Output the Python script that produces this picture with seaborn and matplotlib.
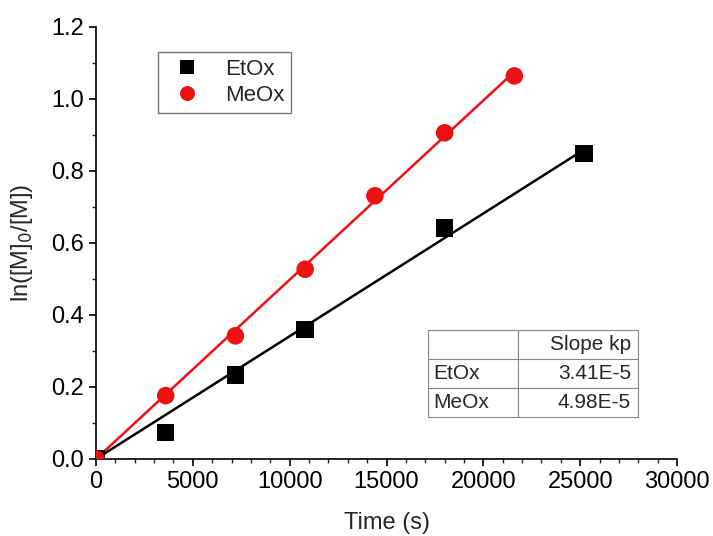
import numpy as np
import pandas as pd
import seaborn as sns
import matplotlib.pyplot as plt
from matplotlib.ticker import MultipleLocator

# data
etox_t = [0, 3600, 7200, 10800, 18000, 25200]
etox_y = [0.0, 0.073, 0.233, 0.360, 0.642, 0.849]
meox_t = [0, 3600, 7200, 10800, 14400, 18000, 21600]
meox_y = [0.0, 0.176, 0.342, 0.527, 0.731, 0.906, 1.064]
series = ['EtOx', 'MeOx']
slopes = [3.41e-5, 4.98e-5]
slope_labels = ['3.41E-5', '4.98E-5']

df = pd.concat([
    pd.DataFrame({'t': etox_t, 'y': etox_y, 'poly': 'EtOx'}),
    pd.DataFrame({'t': meox_t, 'y': meox_y, 'poly': 'MeOx'}),
])

# linear fits through origin, drawn from the slopes in the table
fit = pd.concat([
    pd.DataFrame({'t': [0, max(etox_t)], 'y': [0, slopes[0] * max(etox_t)], 'poly': 'EtOx'}),
    pd.DataFrame({'t': [0, max(meox_t)], 'y': [0, slopes[1] * max(meox_t)], 'poly': 'MeOx'}),
])

sns.set_theme(style="ticks")
plt.rcParams['font.family'] = ['Liberation Sans', 'DejaVu Sans']

colors = {'EtOx': 'black', 'MeOx': '#ee1111'}
markers = {'EtOx': 's', 'MeOx': 'o'}

fig = plt.figure(figsize=(7.13, 5.36), dpi=100)
ax = fig.add_axes([0.1346, 0.1437, 0.815, 0.806])

sns.lineplot(data=fit, x='t', y='y', hue='poly', palette=colors, lw=1.8,
             legend=False, ax=ax)
sns.scatterplot(data=df, x='t', y='y', hue='poly', style='poly', palette=colors,
                markers=markers, s=160, linewidth=0, ax=ax, zorder=3)

ax.set_xlim(0, 30000)
ax.set_ylim(0, 1.2)
ax.xaxis.set_major_locator(MultipleLocator(5000))
ax.xaxis.set_minor_locator(MultipleLocator(1000))
ax.yaxis.set_major_locator(MultipleLocator(0.2))
ax.yaxis.set_minor_locator(MultipleLocator(0.1))
ax.yaxis.set_major_formatter(plt.FuncFormatter(lambda v, p: f'{v:.1f}'))
ax.tick_params(which='major', length=5, width=1.2, labelsize=17, colors='black')
ax.tick_params(which='minor', length=3, width=1.0)
for s in ['left', 'bottom']:
    ax.spines[s].set_linewidth(1.2)
    ax.spines[s].set_color('black')
sns.despine(ax=ax)

ax.set_xlabel('Time (s)', fontsize=17, labelpad=14)
ax.set_ylabel('ln([M]$_0$/[M])', fontsize=17, labelpad=12)

leg = ax.legend(loc='upper left', bbox_to_anchor=(0.107, 0.942), fontsize=16,
                frameon=True, fancybox=False, edgecolor='#555555',
                handletextpad=0.7, borderpad=0.3, labelspacing=0.25,
                borderaxespad=0, markerscale=0.85)
leg.get_frame().set_linewidth(1.0)

rows = [[name, val] for name, val in zip(series, slope_labels)]
tab = ax.table(cellText=[['', 'Slope kp']] + rows,
               bbox=[0.571, 0.097, 0.362, 0.202], edges='closed')
tab.auto_set_font_size(False)
tab.set_fontsize(15)
for (r, c), cell in tab.get_celld().items():
    cell.set_edgecolor('#888888')
    cell.set_linewidth(0.8)
    cell.get_text().set_ha('right' if c == 1 else 'left')
    cell.PAD = 0.06
    cell.set_width(0.155 if c == 0 else 0.207)

fig.savefig('out.png', dpi=100)
